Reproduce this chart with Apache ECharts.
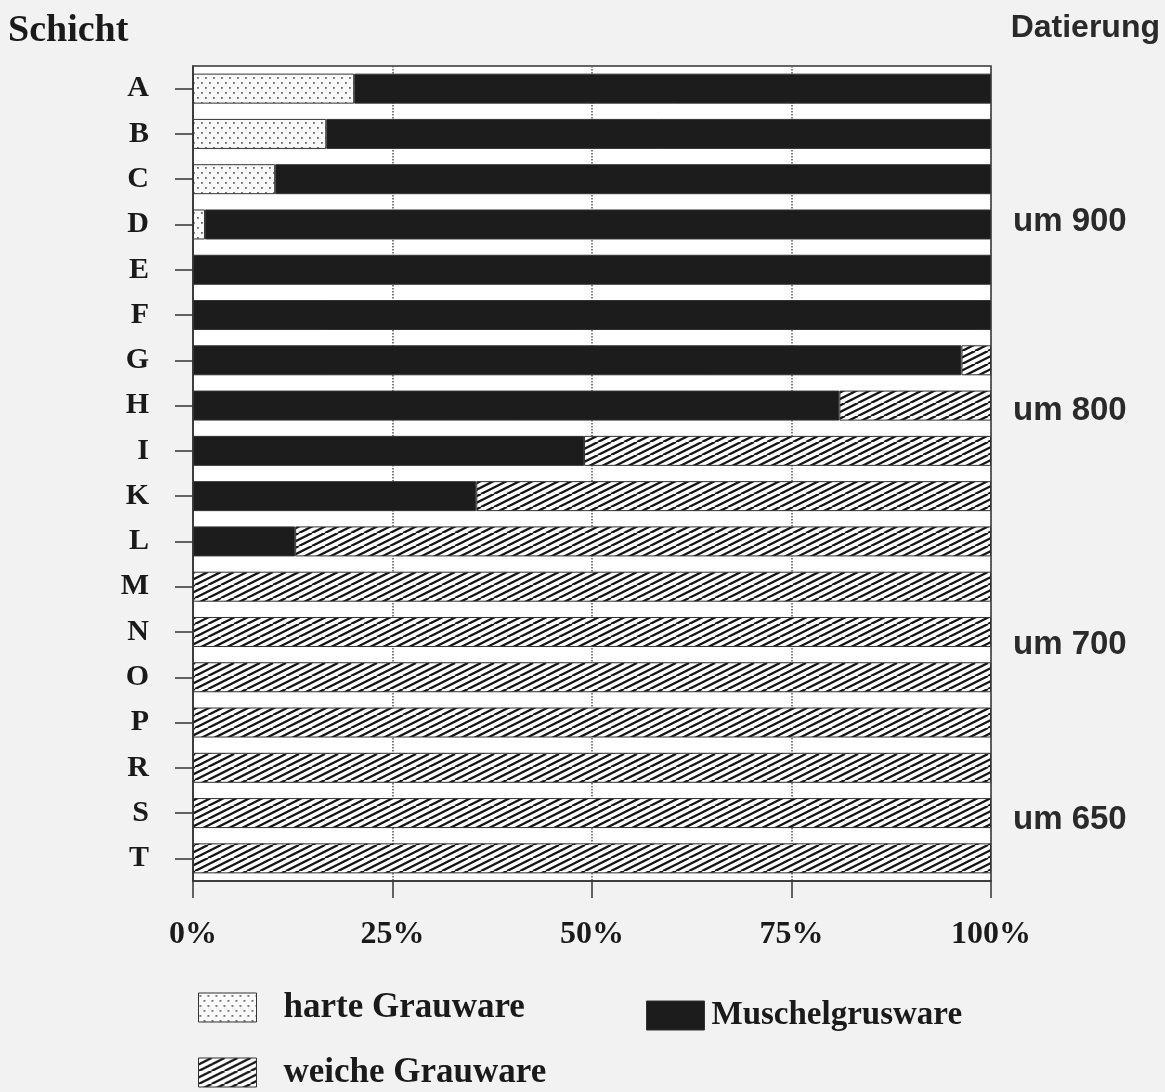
<!DOCTYPE html>
<html><head><meta charset="utf-8">
<script src="https://cdn.jsdelivr.net/npm/echarts@6/dist/echarts.min.js"></script>
<style>html,body{margin:0;padding:0;background:#f2f2f2}#c{width:1165px;height:1092px}</style>
</head><body><div id="c"></div>
<script>
const categories = ['A','B','C','D','E','F','G','H','I','K','L','M','N','O','P','R','S','T'];
const harteGrauware = [20.2,16.7,10.3,1.5,0,0,0,0,0,0,0,0,0,0,0,0,0,0];
const muschelgrusware = [79.8,83.3,89.7,98.5,100,100,96.3,81.0,49.0,35.5,12.8,0,0,0,0,0,0,0];
const weicheGrauware = [0,0,0,0,0,0,3.7,19.0,51.0,64.5,87.2,100,100,100,100,100,100,100];
const xTicks = [0,25,50,75,100];
const datings = ['um 900','um 800','um 700','um 650'];
const datingPos = [2.94, 7.11, 12.29, 16.15];
const seriesNames = ['harte Grauware','Muschelgrusware','weiche Grauware'];

function hatch(){
  const c=document.createElement('canvas'); c.width=26; c.height=13;
  const g=c.getContext('2d'); g.fillStyle='#fff'; g.fillRect(0,0,26,13);
  g.strokeStyle='#151515'; g.lineWidth=2.4;
  for(const o of [-39,-26,-13,0,13,26]){g.beginPath();g.moveTo(o,13);g.lineTo(o+26,0);g.stroke();}
  return c;
}
function dots(){
  const c=document.createElement('canvas'); c.width=8; c.height=10;
  const g=c.getContext('2d'); g.fillStyle='#fafafa'; g.fillRect(0,0,8,10);
  g.fillStyle='#6a6a6a'; g.fillRect(1,2,1.8,1.8); g.fillRect(5,7,1.8,1.8);
  return c;
}
const colors=[{image:dots(),repeat:'repeat'},'#1c1c1c',{image:hatch(),repeat:'repeat'}];
const vals=[harteGrauware,muschelgrusware,weicheGrauware];

const chart=echarts.init(document.getElementById('c'));
const serif='"Liberation Serif","Times New Roman",serif';
const sans='"Liberation Sans",Arial,sans-serif';
const legendPos=[{left:193,top:985,pad:22,fs:35},{left:641,top:994,pad:2,fs:33},{left:193,top:1050,pad:22,fs:35}];
chart.setOption({
  backgroundColor:'#f2f2f2',
  animation:false,
  grid:{left:193,right:174,top:66,bottom:211,show:true,backgroundColor:'#fff',borderColor:'#333',borderWidth:1.5},
  xAxis:{type:'value',min:0,max:100,interval:25,
    axisLine:{show:true,onZero:false,lineStyle:{color:'#333',width:1.5}},
    axisTick:{show:true,inside:false,length:17,lineStyle:{color:'#333',width:1.5}},
    splitLine:{show:true,lineStyle:{type:'dotted',color:'#555',width:1.5}},
    axisLabel:{formatter:'{value}%',margin:38,fontFamily:serif,fontWeight:'bold',fontSize:32,color:'#1a1a1a'}
  },
  yAxis:[{type:'category',data:categories,inverse:true,
    axisLine:{show:true,onZero:false,lineStyle:{color:'#333',width:1.5}},
    axisTick:{show:true,length:18,alignWithLabel:true,lineStyle:{color:'#333',width:1.5}},
    axisLabel:{margin:44,fontFamily:serif,fontWeight:'bold',fontSize:30,color:'#1a1a1a'}
  },{type:'value',min:-0.5,max:17.5,inverse:true,show:false}],
  legend:seriesNames.map((n,i)=>({data:[n],left:legendPos[i].left,top:legendPos[i].top,
    itemWidth:58,itemHeight:29,icon:'rect',selectedMode:false,
    itemStyle:{borderColor:'#333',borderWidth:1},
    textStyle:{fontFamily:serif,fontWeight:'bold',fontSize:legendPos[i].fs,color:'#1a1a1a',padding:[0,0,0,legendPos[i].pad]}})),
  series:seriesNames.map((n,i)=>({name:n,type:'bar',stack:'total',barWidth:30,
    data:vals[i].map(v=>v===0?'-':v),
    itemStyle:{color:colors[i],borderColor:'#333',borderWidth:1}}))
});
const g=[
  {type:'text',left:8,top:12,style:{text:'Schicht',font:'bold 38px '+serif,fill:'#1a1a1a'}},
  {type:'text',right:5,top:12,style:{text:'Datierung',font:'bold 32px '+sans,fill:'#2a2a2a'}}
].concat(datings.map((t,i)=>{
  const y=chart.convertToPixel({yAxisIndex:1},datingPos[i]);
  return {type:'text',x:1013,y:y,style:{text:t,font:'bold 33px '+sans,fill:'#2a2a2a',verticalAlign:'middle'}};
}));
chart.setOption({graphic:g});
</script></body></html>
